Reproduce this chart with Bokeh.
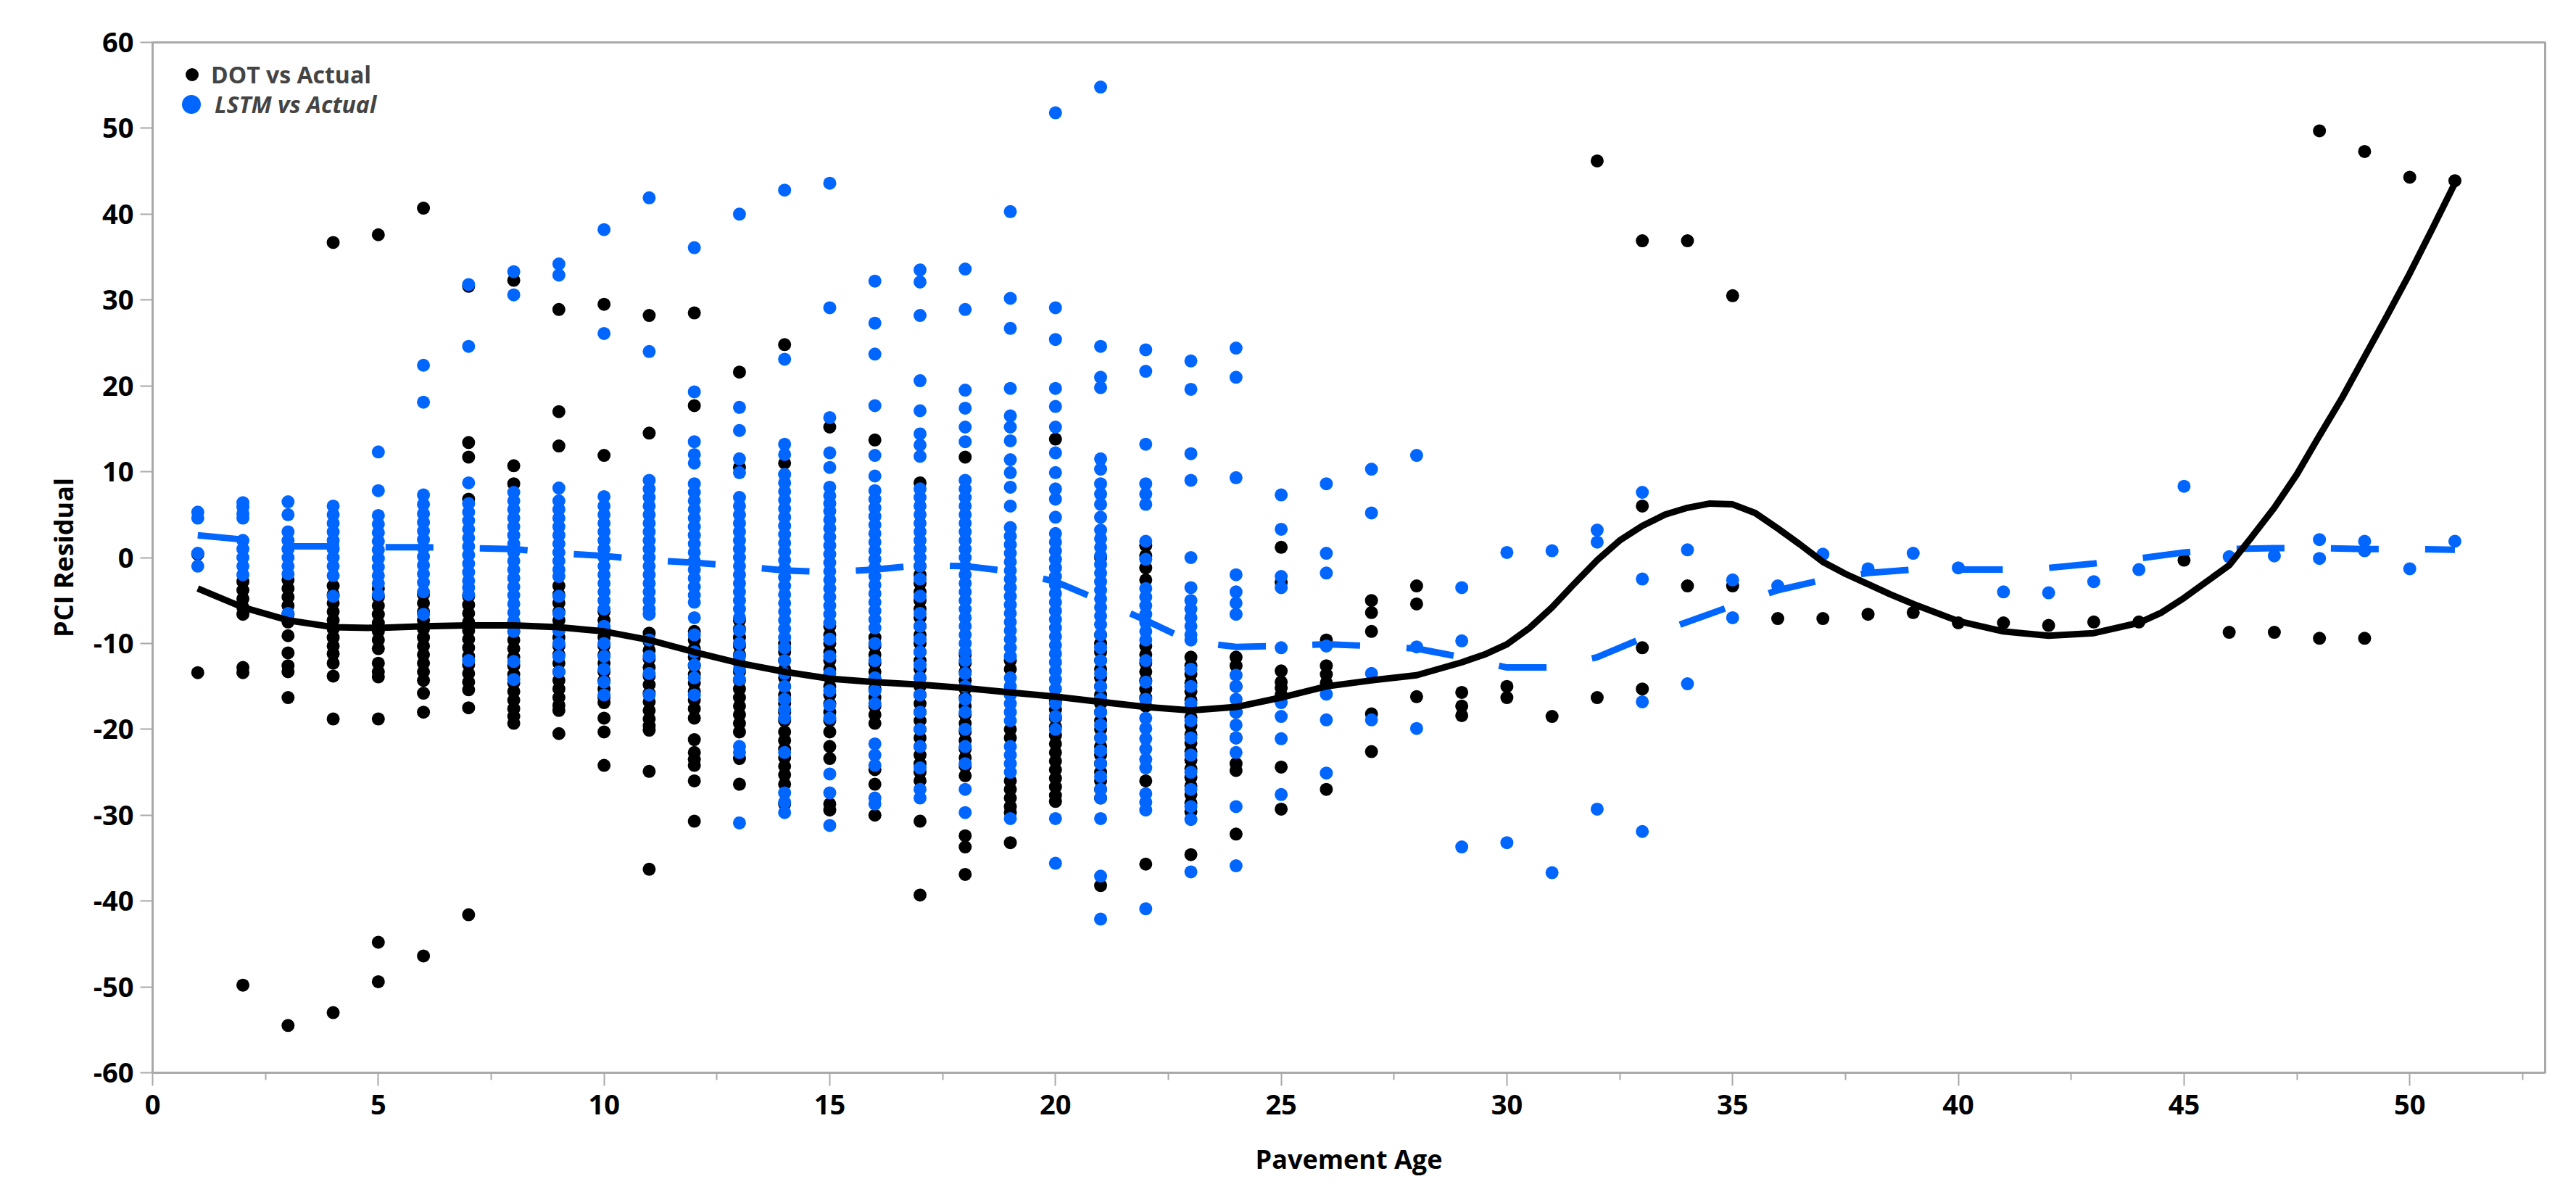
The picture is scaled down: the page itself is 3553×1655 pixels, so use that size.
from bokeh.plotting import figure
from bokeh.models import FixedTicker, Legend, LegendItem, Range1d
from bokeh.embed import file_html
from bokeh.resources import INLINE

# ---------------- data ----------------
ages = list(range(1, 52))

# DOT vs Actual residuals, one list per pavement age 1..51
dot_cols = [
    [0.4, -13.4],
    [-2.8, -3.8, -4.8, -5.8, -6.6, -12.8, -13.4, -49.8],
    [-2.6, -3.6, -4.6, -5.6, -6.6, -7.5, -9.1, -11.1, -12.6, -13.3, -16.3, -54.5],
    [36.7, -3.3, -4.3, -5.3, -6.3, -7.3, -8.3, -9.3, -10.3, -11.2, -12.3, -13.8, -18.8, -53.0],
    [37.6, -3.6, -4.6, -5.6, -6.6, -7.6, -8.6, -9.6, -10.6, -12.3, -13.3, -13.9, -18.8, -44.8, -49.4],
    [40.7, -4.3, -5.3, -6.3, -7.3, -8.3, -9.3, -10.3, -11.3, -12.3, -13.3, -14.3, -15.8, -18.0, -46.4],
    [31.6, 13.4, 11.7, 6.8, -4.5, -5.5, -6.5, -7.5, -8.5, -9.5, -10.5, -11.5, -12.5, -13.5, -14.5, -15.4, -17.5, -41.6],
    [32.3, 10.7, 8.6, -7.6, -8.6, -9.6, -10.6, -11.6, -12.6, -13.6, -14.6, -15.6, -16.6, -17.6, -18.5, -19.3],
    [28.9, 17.0, 13.0, -3.3, -4.3, -5.3, -6.3, -7.3, -8.3, -9.3, -10.3, -11.3, -12.3, -13.3, -14.3, -15.3, -16.3, -17.2, -17.8, -20.5],
    [29.5, 11.9, -6.3, -7.3, -8.3, -9.3, -10.3, -11.3, -12.3, -13.3, -14.3, -15.3, -16.3, -16.9, -18.7, -20.3, -24.2],
    [28.2, 14.5, -8.8, -9.8, -10.8, -11.8, -12.8, -13.8, -14.8, -15.8, -16.8, -17.8, -18.8, -19.6, -20.1, -24.9, -36.3],
    [28.5, 17.7, -8.6, -9.6, -10.6, -11.6, -12.6, -13.6, -14.6, -15.6, -16.6, -17.6, -18.7, -21.2, -22.7, -23.5, -24.2, -26.0, -30.7],
    [21.6, 10.5, -7.3, -8.3, -9.3, -10.3, -11.3, -12.3, -13.3, -14.3, -15.3, -16.3, -17.3, -18.3, -19.3, -20.3, -23.4, -26.4],
    [24.8, 11.0, -10.0, -11.0, -12.0, -13.0, -14.0, -15.0, -16.0, -17.0, -18.0, -19.0, -20.3, -21.3, -22.3, -23.3, -24.3, -25.3, -26.4, -28.7],
    [15.2, -8.0, -9.0, -10.0, -11.0, -12.0, -13.0, -14.0, -15.0, -16.0, -17.0, -18.0, -19.0, -20.3, -22.0, -23.4, -28.7, -29.4],
    [13.7, -9.3, -10.3, -11.3, -12.3, -13.3, -14.3, -15.3, -16.3, -17.3, -18.3, -19.3, -24.7, -26.4, -30.0],
    [8.7, -1.0, -2.0, -3.0, -4.0, -5.0, -6.0, -7.0, -8.0, -9.0, -10.0, -11.0, -12.0, -13.0, -14.0, -15.0, -16.0, -17.0, -18.0, -19.0, -20.0, -21.0, -22.0, -23.0, -24.0, -25.0, -26.0, -30.7, -39.3],
    [11.7, -11.3, -12.3, -13.3, -14.3, -15.3, -16.3, -17.3, -18.3, -19.3, -20.3, -21.3, -22.3, -23.3, -24.3, -25.4, -32.4, -33.7, -36.9],
    [-12.0, -13.0, -20.0, -21.0, -26.0, -27.0, -28.0, -29.0, -29.7, -33.2],
    [13.8, -16.7, -17.7, -18.7, -19.7, -20.7, -21.7, -22.7, -23.7, -24.7, -25.7, -26.7, -27.7, -28.4],
    [0.0, -9.0, -10.0, -11.0, -12.0, -13.0, -14.0, -15.0, -16.0, -17.0, -18.0, -19.0, -20.0, -21.0, -22.0, -23.0, -24.0, -25.0, -26.0, -27.0, -28.0, -38.2],
    [1.4, 0.2, -1.2, -2.6, -10.3, -11.3, -12.3, -13.3, -14.3, -15.3, -16.3, -17.3, -26.0, -35.7],
    [-11.6, -12.6, -13.6, -14.6, -15.6, -16.6, -17.6, -18.6, -19.6, -20.6, -21.6, -22.6, -23.6, -24.6, -25.6, -26.6, -27.6, -28.6, -29.6, -34.6],
    [-11.6, -12.6, -15.0, -18.0, -21.0, -24.0, -24.8, -32.2],
    [1.2, -2.9, -13.2, -14.5, -15.2, -16.0, -24.4, -29.3],
    [-9.6, -12.6, -13.6, -14.6, -27.0],
    [-5.0, -6.4, -8.6, -18.2, -22.6],
    [-3.3, -5.4, -16.2],
    [-15.7, -17.3, -18.4],
    [-15.0, -16.3],
    [-18.5],
    [46.2, -16.3],
    [36.9, 6.0, -10.5, -15.3],
    [36.9, -3.3],
    [30.5, -3.3],
    [-7.1],
    [-7.1],
    [-6.6],
    [-6.4],
    [-7.6],
    [-7.6],
    [-7.9],
    [-7.5],
    [-7.5],
    [-0.3],
    [-8.7],
    [-8.7],
    [49.7, -9.4],
    [47.3, -9.4],
    [44.3],
    [43.9],
]

# LSTM vs Actual residuals, one list per pavement age 1..51
lstm_cols = [
    [5.3, 4.6, 0.5, -1.0],
    [6.4, 5.9, 5.1, 4.6, 2.0, 1.0, 0.0, -1.0, -2.0],
    [6.5, 5.0, 3.0, 2.0, 1.0, 0.0, -1.0, -1.9, -6.5],
    [6.0, 5.0, 4.0, 3.0, 2.0, 1.0, 0.0, -1.0, -2.1, -4.5],
    [12.3, 7.8, 4.9, 3.9, 2.9, 1.9, 0.9, -0.1, -1.1, -2.1, -3.0, -4.3],
    [22.4, 18.1, 7.3, 6.2, 5.1, 4.1, 3.1, 2.1, 1.1, 0.1, -0.9, -1.9, -2.9, -4.0, -6.6],
    [31.8, 24.6, 8.7, 6.3, 5.3, 4.3, 3.3, 2.3, 1.3, 0.3, -0.7, -1.7, -2.7, -3.5, -4.3, -12.0],
    [33.3, 30.6, 7.6, 6.6, 5.6, 4.6, 3.6, 2.6, 1.6, 0.6, -0.4, -1.4, -2.4, -3.4, -4.4, -5.4, -6.4, -7.4, -8.6, -12.1, -14.2],
    [34.2, 32.9, 8.1, 6.6, 5.6, 4.6, 3.6, 2.6, 1.6, 0.6, -0.4, -1.4, -2.2, -4.5, -6.5, -8.5, -10.0, -11.5, -13.3],
    [38.2, 26.1, 7.1, 6.0, 5.0, 4.0, 3.0, 2.0, 1.0, 0.0, -1.0, -2.0, -3.0, -4.0, -5.0, -6.0, -8.0, -10.0, -11.5, -13.0, -14.5, -16.0],
    [41.9, 24.0, 9.0, 8.0, 7.0, 6.0, 5.0, 4.0, 3.0, 2.0, 1.0, 0.0, -1.0, -2.0, -3.0, -4.0, -5.0, -6.0, -6.6, -9.6, -11.5, -13.5, -16.0],
    [36.1, 19.3, 13.5, 12.0, 11.0, 8.6, 7.6, 6.6, 5.6, 4.6, 3.6, 2.6, 1.6, 0.6, -0.4, -1.4, -2.4, -3.4, -4.4, -5.2, -7.0, -9.0, -11.0, -12.5, -14.0, -16.0],
    [40.0, 17.5, 14.8, 11.5, 9.9, 7.0, 6.0, 5.0, 4.0, 3.0, 2.0, 1.0, 0.0, -1.0, -2.0, -3.0, -4.0, -5.0, -6.0, -7.0, -8.5, -10.0, -11.5, -13.0, -14.2, -22.0, -22.7, -30.9],
    [42.8, 23.1, 13.2, 12.0, 9.7, 8.7, 7.7, 6.7, 5.7, 4.7, 3.7, 2.7, 1.7, 0.7, -0.3, -1.3, -2.3, -3.3, -4.3, -5.3, -6.3, -7.3, -8.3, -9.3, -10.5, -12.0, -13.5, -15.0, -16.5, -17.7, -18.7, -22.7, -27.4, -28.5, -29.7],
    [43.6, 29.1, 16.3, 12.2, 10.5, 8.2, 7.2, 6.3, 5.4, 4.4, 3.4, 2.4, 1.4, 0.4, -0.6, -1.6, -2.6, -3.6, -4.6, -5.6, -6.6, -7.6, -9.5, -11.5, -13.5, -15.5, -17.2, -18.7, -25.2, -27.4, -31.2],
    [32.2, 27.3, 23.7, 17.7, 11.9, 9.5, 7.8, 6.8, 5.8, 4.8, 3.8, 2.8, 1.8, 0.8, -0.2, -1.2, -2.2, -3.2, -4.2, -5.2, -6.2, -7.2, -8.2, -10.0, -12.0, -14.0, -15.5, -17.0, -21.7, -23.0, -24.2, -28.0, -28.7],
    [33.5, 32.1, 28.2, 20.6, 17.1, 14.4, 13.1, 11.8, 8.0, 7.0, 6.0, 5.0, 4.0, 3.0, 2.0, 1.0, 0.0, -1.0, -2.5, -4.5, -6.5, -8.0, -9.5, -11.0, -12.5, -14.0, -16.0, -18.0, -20.0, -22.0, -24.5, -27.0, -28.0],
    [33.6, 28.9, 19.5, 17.4, 15.2, 13.5, 9.0, 8.0, 7.0, 6.0, 5.0, 4.0, 3.0, 2.0, 1.0, 0.0, -1.0, -2.0, -3.0, -4.0, -5.0, -6.0, -7.0, -8.0, -9.0, -10.0, -11.0, -12.0, -13.5, -15.0, -16.5, -18.0, -20.0, -22.0, -24.0, -27.0, -29.7],
    [40.3, 30.2, 26.7, 19.7, 16.5, 15.2, 13.6, 11.4, 9.9, 8.2, 6.0, 3.5, 2.5, 1.5, 0.5, -0.5, -1.5, -2.5, -3.5, -4.5, -5.5, -6.5, -7.5, -8.5, -9.5, -10.5, -11.5, -14.0, -15.0, -16.0, -17.0, -18.0, -19.0, -22.0, -23.0, -24.0, -25.0, -30.4],
    [51.8, 29.1, 25.4, 19.7, 17.6, 15.2, 12.2, 9.9, 8.0, 6.8, 4.7, 2.8, 1.8, 0.8, -0.2, -1.2, -2.2, -3.2, -4.2, -5.2, -6.2, -7.2, -8.2, -9.2, -10.2, -11.2, -12.2, -13.2, -14.2, -15.3, -17.0, -18.5, -20.0, -30.4, -35.6],
    [54.8, 24.6, 21.0, 19.8, 11.5, 10.3, 8.6, 7.4, 6.2, 4.7, 3.2, 2.2, 1.2, 0.2, -0.8, -1.8, -2.8, -3.8, -4.8, -5.8, -6.8, -7.8, -9.0, -10.5, -12.0, -13.5, -15.0, -16.5, -18.0, -19.5, -21.0, -22.5, -24.0, -25.5, -27.0, -28.0, -30.4, -37.1, -42.1],
    [24.2, 21.7, 13.2, 8.6, 7.4, 6.2, 1.9, -0.2, -3.6, -4.6, -5.6, -6.6, -7.6, -8.6, -9.6, -12.0, -14.5, -16.5, -18.7, -19.9, -21.1, -22.3, -23.5, -24.5, -27.5, -28.5, -29.4, -40.9],
    [22.9, 19.6, 12.1, 9.0, 0.0, -3.5, -5.0, -6.0, -7.0, -8.0, -9.0, -9.6, -13.0, -15.0, -17.0, -19.0, -21.0, -23.0, -25.0, -27.0, -29.0, -30.5, -36.6],
    [24.4, 21.0, 9.3, -2.0, -4.0, -5.3, -6.6, -13.7, -15.0, -16.5, -18.0, -19.5, -21.0, -22.7, -29.0, -35.9],
    [7.3, 3.3, -2.2, -3.5, -10.5, -16.9, -18.5, -21.1, -27.6],
    [8.6, 0.5, -1.8, -10.3, -15.9, -18.9, -25.1],
    [10.3, 5.2, -13.5, -18.9],
    [11.9, -10.4, -19.9],
    [-3.5, -9.7, -33.7],
    [0.6, -33.2],
    [0.8, -36.7],
    [3.2, 1.8, -29.3],
    [7.6, -2.5, -16.8, -31.9],
    [0.9, -14.7],
    [-2.6, -7.0],
    [-3.3],
    [0.4],
    [-1.3],
    [0.5],
    [-1.2],
    [-4.0],
    [-4.1],
    [-2.8],
    [-1.4],
    [8.3],
    [0.1],
    [0.2],
    [2.1, -0.1],
    [1.9, 0.8],
    [-1.3],
    [1.9],
]

# smoother through DOT residuals (solid black)
dot_fit_age = [1, 2, 3, 4, 5, 6, 7, 8, 9, 10, 11, 12, 13, 14, 15, 16, 17, 18, 19, 20,
               21, 22, 23, 24, 25, 26, 27, 28, 29, 29.5, 30, 30.5, 31, 31.5, 32, 32.5,
               33, 33.5, 34, 34.5, 35, 35.5, 36, 36.5, 37, 37.5, 38, 38.5, 39, 40, 41,
               42, 43, 44, 44.5, 45, 45.5, 46, 46.5, 47, 47.5, 48, 48.5, 49, 49.5, 50,
               50.5, 51]
dot_fit_val = [-3.6, -5.8, -7.3, -8.1, -8.2, -8.0, -7.9, -7.9, -8.1, -8.6, -9.6, -11.0,
               -12.3, -13.3, -14.1, -14.5, -14.8, -15.2, -15.7, -16.2, -16.8, -17.4,
               -17.8, -17.4, -16.3, -15.0, -14.3, -13.7, -12.2, -11.3, -10.1, -8.2,
               -5.8, -3.0, -0.3, 2.0, 3.7, 5.0, 5.8, 6.3, 6.2, 5.2, 3.4, 1.5, -0.5,
               -1.9, -3.1, -4.3, -5.4, -7.4, -8.6, -9.1, -8.8, -7.6, -6.4, -4.7, -2.8,
               -0.9, 2.4, 5.8, 9.7, 14.2, 18.6, 23.4, 28.2, 33.1, 38.3, 43.6]

# line through LSTM residuals (dashed blue), one value per age 1..51
lstm_fit_val = [2.6, 2.1, 1.3, 1.3, 1.2, 1.2, 1.1, 1.0, 0.5, 0.2, -0.3, -0.6, -1.0,
                -1.5, -1.7, -1.4, -0.9, -1.0, -1.6, -2.8, -5.0, -7.3, -9.8, -10.4,
                -10.3, -10.1, -10.3, -10.6, -11.6, -12.8, -12.8, -11.6, -9.4, -7.5,
                -5.6, -3.8, -2.6, -1.8, -1.4, -1.4, -1.4, -1.2, -0.7, -0.1, 0.6, 1.0,
                1.1, 1.1, 1.0, 1.0, 0.9]

x_major = [0, 5, 10, 15, 20, 25, 30, 35, 40, 45, 50]
x_minor = [2.5, 7.5, 12.5, 17.5, 22.5, 27.5, 32.5, 37.5, 42.5, 47.5, 52.5]
y_major = [-60, -50, -40, -30, -20, -10, 0, 10, 20, 30, 40, 50, 60]

# ---------------- styling ----------------
BLUE = "#0066ff"
BLACK = "#000000"
GRAY = "#a9a9a9"
FONT = "Open Sans"

dot_x = [a for a, col in zip(ages, dot_cols) for _ in col]
dot_y = [v for col in dot_cols for v in col]
lstm_x = [a for a, col in zip(ages, lstm_cols) for _ in col]
lstm_y = [v for col in lstm_cols for v in col]

W, H = 3535, 1637
p = figure(width=W, height=H, output_backend="svg", toolbar_location=None,
           x_range=Range1d(0, 53), y_range=Range1d(-60, 60),
           min_border_left=210, min_border_right=25, min_border_top=58,
           min_border_bottom=158)
p.background_fill_color = "white"
p.border_fill_color = "white"
p.grid.visible = False
p.outline_line_color = GRAY
p.outline_line_width = 3

r_dot = p.scatter(dot_x, dot_y, size=18, color=BLACK, line_color=None)
r_lstm = p.scatter(lstm_x, lstm_y, size=18, color=BLUE, line_color=None)
p.line(ages, lstm_fit_val, line_color=BLUE, line_width=9, line_dash="66 64")
p.line(dot_fit_age, dot_fit_val, line_color=BLACK, line_width=9)

for ax in (p.xaxis[0], p.yaxis[0]):
    ax.axis_line_color = GRAY
    ax.axis_line_width = 3
    ax.major_tick_line_color = GRAY
    ax.major_tick_line_width = 2
    ax.minor_tick_line_color = GRAY
    ax.minor_tick_line_width = 2
    ax.major_tick_in = 0
    ax.minor_tick_in = 0
    ax.major_label_text_font = FONT
    ax.major_label_text_font_style = "bold"
    ax.major_label_text_font_size = "38px"
    ax.major_label_text_color = BLACK
    ax.axis_label_text_font = FONT
    ax.axis_label_text_font_style = "bold"
    ax.axis_label_text_font_size = "36px"
    ax.axis_label_text_color = BLACK

p.xaxis.ticker = FixedTicker(ticks=x_major, minor_ticks=x_minor)
p.yaxis.ticker = FixedTicker(ticks=y_major, minor_ticks=[])
p.xaxis.major_label_overrides = {t: str(t) for t in x_major}
p.yaxis.major_label_overrides = {t: str(t) for t in y_major}
p.xaxis.major_tick_out = 18
p.xaxis.minor_tick_out = 10
p.yaxis.major_tick_out = 17
p.yaxis.minor_tick_out = 0
p.xaxis.major_label_standoff = 12
p.yaxis.major_label_standoff = 9
p.xaxis.axis_label = "Pavement Age"
p.yaxis.axis_label = "PCI Residual"
p.xaxis.axis_label_standoff = 34
p.yaxis.axis_label_standoff = 14

FRAME_H = H - 58 - 158
leg1 = Legend(items=[LegendItem(label="DOT vs Actual", renderers=[r_dot])],
              location=(32, FRAME_H - 67), glyph_width=45, glyph_height=45,
              label_standoff=4, padding=0, margin=0, spacing=0,
              label_text_font=FONT, label_text_font_style="bold",
              label_text_font_size="32px", label_height=45,
              border_line_color=None, background_fill_alpha=0)
leg2 = Legend(items=[LegendItem(label="LSTM vs Actual", renderers=[r_lstm])],
              location=(21, FRAME_H - 118), glyph_width=65, glyph_height=65,
              label_standoff=0, padding=0, margin=0, spacing=0,
              label_text_font=FONT, label_text_font_style="bold italic",
              label_text_font_size="32px", label_height=65,
              border_line_color=None, background_fill_alpha=0)
p.add_layout(leg1, "center")
p.add_layout(leg2, "center")

open("out.html", "w").write(file_html(p, INLINE))
